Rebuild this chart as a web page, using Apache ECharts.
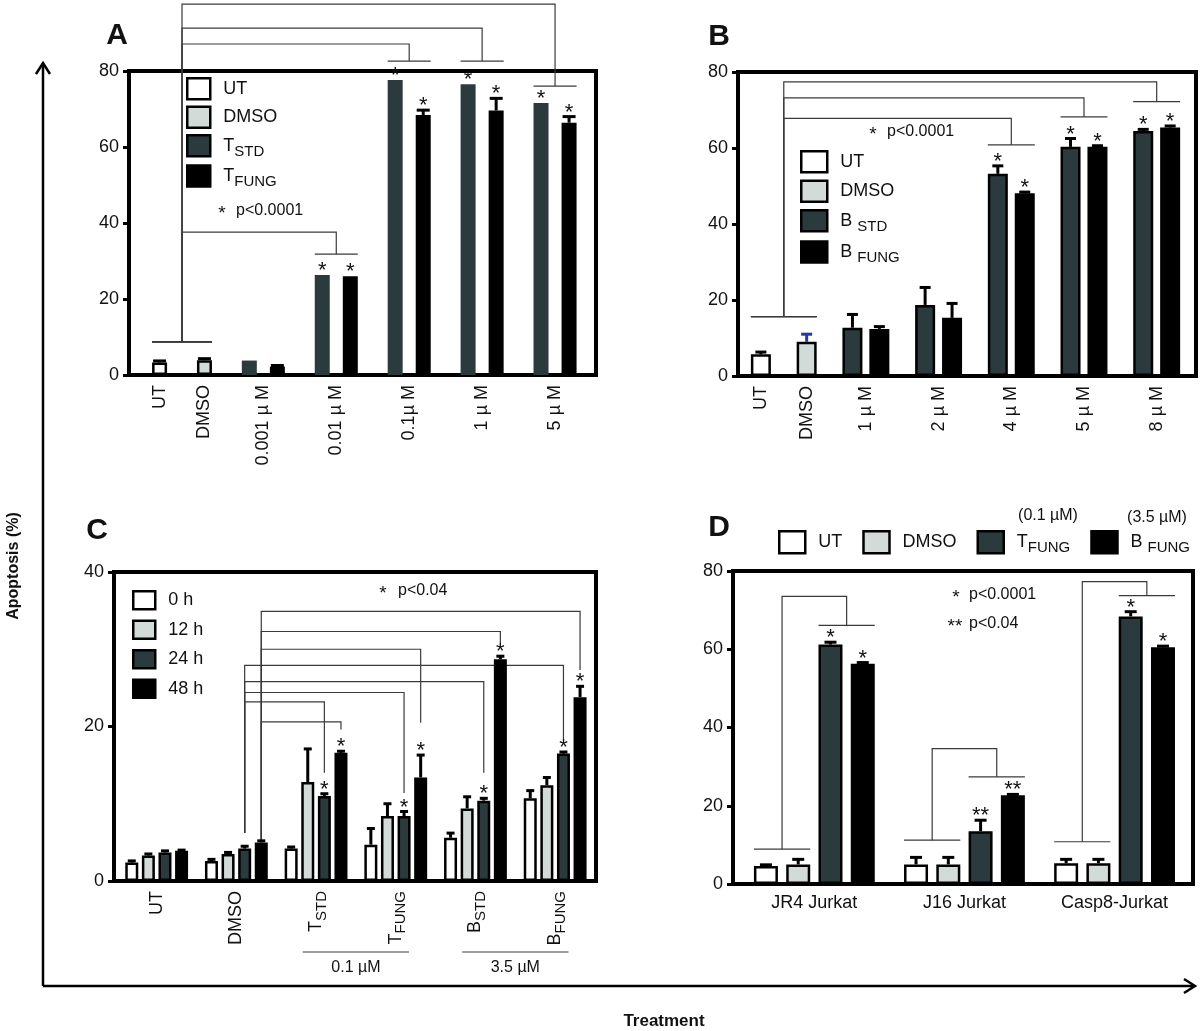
<!DOCTYPE html>
<html>
<head>
<meta charset="utf-8">
<title>Apoptosis</title>
<script src="https://cdn.jsdelivr.net/npm/echarts@6/dist/echarts.min.js"></script>
<style>
  html, body { margin: 0; background: #fff; }
  #main { width: 1200px; height: 1031px; }
</style>
</head>
<body>
<div id="main"></div>
<script>
// ---------------- data ----------------
// panel A
var aCats = ['UT', 'DMSO', '0.001 µ M', '0.01 µ M', '0.1µ M', '1 µ M', '5 µ M'];
var aUT = [3.3], aUTErr = [0.4];
var aDMSO = [3.9], aDMSOErr = [0.4];
var aSTD = [3.8, 26.3, 77.6, 76.5, 71.6];
var aSTDErr = [0, 0, 0, 0, 0];
var aFUNG = [2.2, 26.0, 68.4, 69.6, 66.4];
var aFUNGErr = [0.3, 0, 1.3, 3.2, 1.6];
var aSig = ['', '*', '*', '*', '*'];
// brackets: bars compared (flat index), y of top line and of the two caps
var aBrackets = [
  { from: [0, 1], to: [4, 5], top: 37.6, capL: 8.7, capR: 31.8 },
  { from: [0, 1], to: [6, 7], top: 87.1, capL: 8.7, capR: 82.6 },
  { from: [0, 1], to: [8, 9], top: 91.3, capL: 8.7, capR: 82.6 },
  { from: [0, 1], to: [10, 11], top: 97.6, capL: 8.7, capR: 76.0 }
];

// panel B
var bCats = ['UT', 'DMSO', '1 µ M', '2 µ M', '4 µ M', '5 µ M', '8 µ M'];
var bUT = [5.7], bUTErr = [0.6];
var bDMSO = [9.0], bDMSOErr = [2.0];
var bSTD = [12.7, 18.7, 53.2, 60.3, 64.5];
var bSTDErr = [3.5, 4.6, 2.1, 2.2, 0.4];
var bFUNG = [12.4, 15.3, 48.1, 60.3, 65.4];
var bFUNGErr = [0.6, 3.8, 0.3, 0.3, 0.4];
var bSig = ['', '', '*', '*', '*'];
var bBrackets = [
  { from: [0, 1], to: [6, 7], top: 67.8, capL: 15.6, capR: 60.8 },
  { from: [0, 1], to: [8, 9], top: 73.2, capL: 15.6, capR: 68.2 },
  { from: [0, 1], to: [10, 11], top: 77.4, capL: 15.6, capR: 72.2 }
];

// panel C (groups: UT, DMSO, T std, T fung, B std, B fung)
var cCats = ['UT', 'DMSO', '{m|T}{s|STD}', '{m|T}{s|FUNG}', '{m|B}{s|STD}', '{m|B}{s|FUNG}'];
var c0h = [2.4, 2.6, 4.2, 4.7, 5.6, 10.7];
var c0hErr = [0.2, 0.2, 0.2, 2.1, 0.6, 1.0];
var c12h = [3.3, 3.5, 12.8, 8.4, 9.4, 12.4];
var c12hErr = [0.2, 0.2, 4.3, 1.6, 1.5, 1.0];
var c24h = [3.7, 4.2, 11.0, 8.4, 10.4, 16.5];
var c24hErr = [0.2, 0.3, 0.3, 0.6, 0.3, 0.2];
var c48h = [3.9, 5.0, 16.6, 13.4, 28.7, 23.8];
var c48hErr = [0.1, 0.2, 0.2, 2.9, 0.4, 1.4];
var cSig = ['', '', '*', '*', '*', '*'];
// connectors: from bar, to bar, top line, start and end heights
var cLinks = [
  { from: 6, to: 10, top: 23.2, y1: 6.2, y2: 14.0 },
  { from: 6, to: 14, top: 24.4, y1: 6.2, y2: 11.4 },
  { from: 6, to: 18, top: 25.8, y1: 6.2, y2: 14.0 },
  { from: 6, to: 22, top: 27.9, y1: 6.2, y2: 18.3 },
  { from: 7, to: 11, top: 20.6, y1: 5.1, y2: 19.6 },
  { from: 7, to: 15, top: 30.0, y1: 5.1, y2: 20.5 },
  { from: 7, to: 19, top: 32.3, y1: 5.1, y2: 30.8 },
  { from: 7, to: 23, top: 34.9, y1: 5.1, y2: 27.3 }
];
var cDose = [
  { groups: [2, 3], label: '0.1 µM' },
  { groups: [4, 5], label: '3.5 µM' }
];

// panel D
var dCats = ['JR4 Jurkat', 'J16 Jurkat', 'Casp8-Jurkat'];
var dUT = [4.6, 5.0, 5.3], dUTErr = [0.3, 1.8, 1.0];
var dDMSO = [5.0, 5.0, 5.3], dDMSOErr = [1.3, 1.8, 1.0];
var dTF = [61.2, 13.5, 68.4], dTFErr = [0.6, 2.8, 1.2];
var dBF = [56.3, 22.7, 60.5], dBFErr = [0.3, 0.2, 0.3];
var dSig = ['*', '**', '*'];
var dBrackets = [
  { from: [0, 1], to: [2, 3], top: 73.5, capL: 8.9, capR: 66.1 },
  { from: [4, 5], to: [6, 7], top: 34.6, capL: 11.2, capR: 27.4 },
  { from: [8, 9], to: [10, 11], top: 77.3, capL: 10.8, capR: 73.7 }
];

// ---------------- styling ----------------
var FONT = '"Liberation Sans", Arial, Helvetica, sans-serif';
var INK = '#111';
var LINK = '#3a3a3a';
var FILL = { ut: '#ffffff', dmso: '#d3dbd9', std: '#2b3a3c', fung: '#000000' };
var SUB = {
  m: { fontSize: 18, fontFamily: FONT, color: INK },
  s: { fontSize: 15, fontFamily: FONT, color: INK, padding: [12, 0, 0, 0] }
};
var LEGEND_TEXT = {
  T_STD: '{m|T}{s|STD}', T_FUNG: '{m|T}{s|FUNG}',
  B_STD: '{m|B }{s|STD}', B_FUNG: '{m|B }{s|FUNG}'
};

// bars inside a group are 1 unit apart, groups are "between" units apart
function layout(sizes, between) {
  var pos = [], starts = [], centers = [], x = 0;
  sizes.forEach(function (n) {
    starts.push(pos.length);
    var first = x;
    for (var k = 0; k < n; k++) {
      pos.push(x);
      if (k < n - 1) x += 1;
    }
    centers.push((first + x) / 2);
    x += between;
  });
  return { pos: pos, starts: starts, centers: centers, last: pos[pos.length - 1] };
}

var panels = [
  {
    grid: { left: 129, top: 71, width: 467, height: 304 },
    L: layout([1, 1, 2, 2, 2, 2, 2], 1.6), padL: 1.09, padR: 0.96,
    yMax: 80, barW: 15, cap: 13, rotate: 90, cats: aCats,
    series: [
      { name: 'UT', fill: FILL.ut, border: 2.5, groups: [0], slot: 0, vals: aUT, errs: aUTErr },
      { name: 'DMSO', fill: FILL.dmso, border: 2.5, groups: [1], slot: 0, vals: aDMSO, errs: aDMSOErr },
      { name: 'T_STD', fill: FILL.std, border: 0, groups: [2, 3, 4, 5, 6], slot: 0, vals: aSTD, errs: aSTDErr, stars: aSig },
      { name: 'T_FUNG', fill: FILL.fung, border: 0, groups: [2, 3, 4, 5, 6], slot: 1, vals: aFUNG, errs: aFUNGErr, stars: aSig }
    ],
    brackets: aBrackets
  },
  {
    grid: { left: 738, top: 72, width: 458, height: 304 },
    L: layout([1, 1, 2, 2, 2, 2, 2], 1.7), padL: 0.85, padR: 0.96,
    yMax: 80, barW: 20, cap: 11, rotate: 90, cats: bCats,
    series: [
      { name: 'UT', fill: FILL.ut, border: 2.5, groups: [0], slot: 0, vals: bUT, errs: bUTErr },
      { name: 'DMSO', fill: FILL.dmso, border: 2.5, groups: [1], slot: 0, vals: bDMSO, errs: bDMSOErr, errColor: '#2438a8' },
      { name: 'B_STD', fill: FILL.std, border: 2.5, groups: [2, 3, 4, 5, 6], slot: 0, vals: bSTD, errs: bSTDErr, stars: bSig },
      { name: 'B_FUNG', fill: FILL.fung, border: 2.5, groups: [2, 3, 4, 5, 6], slot: 1, vals: bFUNG, errs: bFUNGErr, stars: bSig }
    ],
    brackets: bBrackets
  },
  {
    grid: { left: 114, top: 572, width: 482, height: 309 },
    L: layout([4, 4, 4, 4, 4, 4], 1.8), padL: 1.07, padR: 0.96,
    yMax: 40, barW: 13, cap: 8, rotate: 90, cats: cCats,
    series: [
      { name: '0 h', fill: FILL.ut, border: 2.5, groups: [0, 1, 2, 3, 4, 5], slot: 0, vals: c0h, errs: c0hErr },
      { name: '12 h', fill: FILL.dmso, border: 2.5, groups: [0, 1, 2, 3, 4, 5], slot: 1, vals: c12h, errs: c12hErr },
      { name: '24 h', fill: FILL.std, border: 2.5, groups: [0, 1, 2, 3, 4, 5], slot: 2, vals: c24h, errs: c24hErr, stars: cSig },
      { name: '48 h', fill: FILL.fung, border: 2.5, groups: [0, 1, 2, 3, 4, 5], slot: 3, vals: c48h, errs: c48hErr, stars: cSig }
    ],
    links: cLinks, dose: cDose
  },
  {
    grid: { left: 733, top: 571, width: 460, height: 313 },
    L: layout([4, 4, 4], 1.65), padL: 1.02, padR: 0.93,
    yMax: 80, barW: 24, cap: 12, rotate: 0, cats: dCats,
    series: [
      { name: 'UT', fill: FILL.ut, border: 2.5, groups: [0, 1, 2], slot: 0, vals: dUT, errs: dUTErr },
      { name: 'DMSO', fill: FILL.dmso, border: 2.5, groups: [0, 1, 2], slot: 1, vals: dDMSO, errs: dDMSOErr },
      { name: 'T_FUNG', fill: FILL.std, border: 2.5, groups: [0, 1, 2], slot: 2, vals: dTF, errs: dTFErr, stars: dSig },
      { name: 'B_FUNG', fill: FILL.fung, border: 2.5, groups: [0, 1, 2], slot: 3, vals: dBF, errs: dBFErr, stars: dSig }
    ],
    brackets: dBrackets
  }
];

// ---------------- render helpers ----------------
function errorBars(stars, colors, cap) {
  return function (params, api) {
    var i = params.dataIndex;
    var x = api.value(0), y = api.value(1), e = api.value(2);
    var base = api.coord([x, y]), tip = api.coord([x, y + e]);
    var kids = [];
    if (e > 0) {
      var st = { stroke: colors[i], lineWidth: 3 };
      kids.push({ type: 'line', shape: { x1: base[0], y1: base[1], x2: tip[0], y2: tip[1] }, style: st });
      kids.push({ type: 'line', shape: { x1: tip[0] - cap / 2, y1: tip[1], x2: tip[0] + cap / 2, y2: tip[1] }, style: st });
    }
    if (stars[i]) {
      kids.push({
        type: 'text', x: tip[0], y: tip[1] - 4,
        style: { text: stars[i], fill: INK, fontSize: 22, fontFamily: FONT,
          align: 'center', verticalAlign: 'middle', textAlign: 'center', textVerticalAlign: 'middle' }
      });
    }
    return { type: 'group', children: kids };
  };
}

function bracketShape(list, pos, halfW) {
  return function (params, api) {
    var b = list[params.dataIndex];
    function px(i) { return api.coord([pos[i], 0])[0]; }
    function py(v) { return api.coord([0, v])[1]; }
    var l0 = px(b.from[0]) - halfW, l1 = px(b.from[b.from.length - 1]) + halfW;
    var r0 = px(b.to[0]) - halfW, r1 = px(b.to[b.to.length - 1]) + halfW;
    var lc = (l0 + l1) / 2, rc = (r0 + r1) / 2;
    var yl = py(b.capL), yt = py(b.top), yr = py(b.capR);
    var st = { stroke: LINK, lineWidth: 1.2, fill: null };
    return { type: 'group', children: [
      { type: 'polyline', shape: { points: [[l0, yl], [l1, yl]] }, style: st },
      { type: 'polyline', shape: { points: [[lc, yl], [lc, yt], [rc, yt], [rc, yr]] }, style: st },
      { type: 'polyline', shape: { points: [[r0, yr], [r1, yr]] }, style: st }
    ] };
  };
}

function linkShape(list, pos) {
  return function (params, api) {
    var c = list[params.dataIndex];
    var pts = [
      api.coord([pos[c.from], c.y1]), api.coord([pos[c.from], c.top]),
      api.coord([pos[c.to], c.top]), api.coord([pos[c.to], c.y2])
    ];
    return { type: 'polyline', shape: { points: pts }, style: { stroke: LINK, lineWidth: 1.2, fill: null } };
  };
}

function doseShape(list, centers) {
  return function (params, api) {
    var d = list[params.dataIndex];
    var cx = (centers[d.groups[0]] + centers[d.groups[1]]) / 2;
    var a = api.coord([cx - 3.2, 0]), b = api.coord([cx + 3.2, 0]), m = api.coord([cx, 0]);
    return { type: 'group', children: [
      { type: 'line', shape: { x1: a[0], y1: a[1] + 71, x2: b[0], y2: b[1] + 71 }, style: { stroke: LINK, lineWidth: 1.2 } },
      { type: 'text', x: m[0], y: m[1] + 87,
        style: { text: d.label, fill: INK, fontSize: 16, fontFamily: FONT,
          align: 'center', verticalAlign: 'middle', textAlign: 'center', textVerticalAlign: 'middle' } }
    ] };
  };
}

function legendFor(names, fills, cfg) {
  var base = {
    selectedMode: false, icon: 'rect', padding: 0,
    textStyle: { fontSize: 18, fontFamily: FONT, color: INK, padding: [0, 0, 0, 8], rich: SUB },
    formatter: function (n) { return LEGEND_TEXT[n] || n; },
    data: names.map(function (n, i) {
      return { name: n, icon: 'rect', itemStyle: { color: fills[i], borderColor: '#000', borderWidth: 2.5 } };
    })
  };
  for (var k in cfg) base[k] = cfg[k];
  return base;
}

// ---------------- option ----------------
var option = {
  animation: false,
  backgroundColor: '#ffffff',
  textStyle: { fontFamily: FONT },
  grid: [], xAxis: [], yAxis: [], series: [],
  legend: [
    legendFor(['UT', 'DMSO', 'T_STD', 'T_FUNG'], [FILL.ut, FILL.dmso, FILL.std, FILL.fung],
      { orient: 'vertical', left: 186, top: 77, itemWidth: 23, itemHeight: 21, itemGap: 5 }),
    legendFor(['UT', 'DMSO', 'B_STD', 'B_FUNG'], [FILL.ut, FILL.dmso, FILL.std, FILL.fung],
      { orient: 'vertical', left: 800, top: 150, itemWidth: 26, itemHeight: 21, itemGap: 6 }),
    legendFor(['0 h', '12 h', '24 h', '48 h'], [FILL.ut, FILL.dmso, FILL.std, FILL.fung],
      { orient: 'vertical', left: 132, top: 590, itemWidth: 22, itemHeight: 18, itemGap: 9 }),
    legendFor(['UT', 'DMSO', 'T_FUNG', 'B_FUNG'], [FILL.ut, FILL.dmso, FILL.std, FILL.fung],
      { orient: 'horizontal', left: 778, top: 530, width: 422, itemWidth: 26, itemHeight: 22, itemGap: 20 })
  ],
  graphic: []
};

panels.forEach(function (p, gi) {
  var pos = p.L.pos;
  var g = { show: true, borderColor: '#000', borderWidth: 4 };
  for (var k in p.grid) g[k] = p.grid[k];
  option.grid.push(g);

  option.xAxis.push({
    type: 'value', gridIndex: gi, min: -p.padL, max: p.L.last + p.padR,
    splitLine: { show: false }, axisTick: { show: false },
    axisLine: { onZero: false, lineStyle: { color: '#000', width: 4 } },
    axisLabel: {
      customValues: p.L.centers, rotate: p.rotate, margin: 10,
      fontSize: 18, color: INK, fontFamily: FONT,
      rich: { m: { fontSize: 18, fontFamily: FONT, color: INK }, s: { fontSize: 15, fontFamily: FONT, color: INK, padding: [11, 0, 0, 0] } },
      formatter: function (v) {
        var best = 0;
        p.L.centers.forEach(function (c, i) {
          if (Math.abs(c - v) < Math.abs(p.L.centers[best] - v)) best = i;
        });
        return p.cats[best];
      }
    }
  });
  option.yAxis.push({
    type: 'value', gridIndex: gi, min: 0, max: p.yMax, interval: 20,
    splitLine: { show: false },
    axisLine: { show: true, onZero: false, lineStyle: { color: '#000', width: 4 } },
    axisTick: { show: true, length: 6, lineStyle: { color: '#000', width: 3 } },
    axisLabel: { fontSize: 18, color: INK, fontFamily: FONT, margin: 10 }
  });

  var errData = [], errStars = [], errColors = [];
  p.series.forEach(function (s) {
    var data = s.vals.map(function (v, i) {
      var x = pos[p.L.starts[s.groups[i]] + s.slot];
      errData.push([x, v, s.errs[i]]);
      errStars.push(s.stars ? s.stars[i] : '');
      errColors.push(s.errColor || '#000');
      return [x, v];
    });
    option.series.push({
      type: 'bar', name: s.name, xAxisIndex: gi, yAxisIndex: gi, data: data,
      barWidth: p.barW, barGap: '-100%', z: 3, silent: true,
      itemStyle: { color: s.fill, borderColor: '#000', borderWidth: s.border }
    });
  });
  option.series.push({
    type: 'custom', xAxisIndex: gi, yAxisIndex: gi, data: errData, z: 4, silent: true, clip: false,
    renderItem: errorBars(errStars, errColors, p.cap)
  });

  if (p.brackets) {
    option.series.push({
      type: 'custom', xAxisIndex: gi, yAxisIndex: gi, z: 2, silent: true, clip: false,
      data: p.brackets.map(function (b) { return [pos[b.to[0]], b.top]; }),
      renderItem: bracketShape(p.brackets, pos, p.barW / 2)
    });
  }
  if (p.links) {
    option.series.push({
      type: 'custom', xAxisIndex: gi, yAxisIndex: gi, z: 2, silent: true, clip: false,
      data: p.links.map(function (c) { return [pos[c.to], c.top]; }),
      renderItem: linkShape(p.links, pos)
    });
  }
  if (p.dose) {
    option.series.push({
      type: 'custom', xAxisIndex: gi, yAxisIndex: gi, z: 2, silent: true, clip: false,
      data: p.dose.map(function (d) { return [p.L.centers[d.groups[0]], 0]; }),
      renderItem: doseShape(p.dose, p.L.centers)
    });
  }
});

// ---------------- annotations ----------------
function txt(x, y, text, font, extra) {
  var el = {
    type: 'text', x: x, y: y, silent: true,
    style: { text: text, font: font, fill: INK, align: 'center', verticalAlign: 'middle',
      textAlign: 'center', textVerticalAlign: 'middle' }
  };
  if (extra) for (var k in extra) el[k] = extra[k];
  return el;
}
function leftTxt(x, y, text, font) {
  var el = txt(x, y, text, font);
  el.style.align = 'left';
  el.style.textAlign = 'left';
  return el;
}
var arrowStyle = { stroke: '#000', lineWidth: 2.5, fill: null };
option.graphic = [
  { type: 'polyline', silent: true, shape: { points: [[43, 986], [43, 63]] }, style: arrowStyle },
  { type: 'polyline', silent: true, shape: { points: [[36, 74], [43, 63], [50, 74]] }, style: arrowStyle },
  { type: 'polyline', silent: true, shape: { points: [[43, 986], [1194, 986]] }, style: arrowStyle },
  { type: 'polyline', silent: true, shape: { points: [[1184, 979], [1195, 986], [1184, 993]] }, style: arrowStyle },
  txt(14, 566, 'Apoptosis (%)', 'bold 16px ' + FONT, { rotation: Math.PI / 2 }),
  txt(664, 1021, 'Treatment', 'bold 17px ' + FONT),
  txt(117, 36, 'A', 'bold 30px ' + FONT),
  txt(719, 37, 'B', 'bold 30px ' + FONT),
  txt(97, 531, 'C', 'bold 30px ' + FONT),
  txt(719, 528, 'D', 'bold 30px ' + FONT),
  txt(222, 214, '*', '19px ' + FONT), leftTxt(236, 211, 'p<0.0001', '16px ' + FONT),
  txt(873, 135, '*', '19px ' + FONT), leftTxt(887, 132, 'p<0.0001', '16px ' + FONT),
  txt(383, 594, '*', '19px ' + FONT), leftTxt(398, 591, 'p<0.04', '16px ' + FONT),
  txt(956, 598, '*', '19px ' + FONT), leftTxt(969, 595, 'p<0.0001', '16px ' + FONT),
  txt(955, 627, '**', '19px ' + FONT), leftTxt(969, 624, 'p<0.04', '16px ' + FONT),
  txt(1048, 516, '(0.1 µM)', '16px ' + FONT),
  txt(1157, 518, '(3.5 µM)', '16px ' + FONT)
];

var chart = echarts.init(document.getElementById('main'));
chart.setOption(option);
</script>
</body>
</html>
